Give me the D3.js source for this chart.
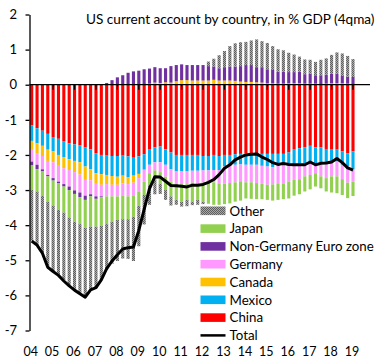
<!DOCTYPE html>
<html><head><meta charset="utf-8">
<script src="https://cdn.jsdelivr.net/npm/d3@7"></script>
<style>body{margin:0;background:#fff} svg{display:block}</style>
</head><body>
<svg id="chart" width="384" height="360"></svg>
<script>
const years = ["04","05","06","07","08","09","10","11","12","13","14","15","16","17","18","19"];
const quarters = years.flatMap(yy => ["Q1","Q2","Q3","Q4"].map(q => yy + q)).slice(0, 61);
const yTicks = [-7,-6,-5,-4,-3,-2,-1,0,1,2];

const china = [-1.16,-1.24,-1.31,-1.40,-1.49,-1.54,-1.62,-1.67,-1.70,-1.73,-1.79,-1.84,-1.95,-2.00,-2.02,-2.03,-2.03,-2.02,-2.04,-2.08,-2.04,-1.98,-1.85,-1.78,-1.76,-1.84,-1.93,-2.00,-2.00,-2.00,-2.00,-2.00,-2.03,-2.03,-2.00,-2.03,-2.00,-2.00,-1.98,-1.97,-1.96,-1.98,-1.98,-1.97,-1.97,-1.97,-1.97,-1.97,-1.93,-1.85,-1.81,-1.78,-1.74,-1.78,-1.78,-1.83,-1.85,-1.85,-1.90,-1.95,-1.90];
const mexico = [-0.44,-0.43,-0.43,-0.45,-0.41,-0.46,-0.45,-0.45,-0.47,-0.48,-0.54,-0.57,-0.57,-0.55,-0.55,-0.57,-0.59,-0.57,-0.60,-0.51,-0.50,-0.44,-0.43,-0.43,-0.45,-0.44,-0.48,-0.47,-0.47,-0.47,-0.45,-0.45,-0.41,-0.41,-0.43,-0.40,-0.33,-0.30,-0.30,-0.30,-0.32,-0.30,-0.30,-0.34,-0.36,-0.38,-0.34,-0.34,-0.35,-0.43,-0.47,-0.45,-0.45,-0.45,-0.45,-0.40,-0.38,-0.34,-0.38,-0.38,-0.51];
const canada = [-0.23,-0.28,-0.29,-0.32,-0.31,-0.31,-0.31,-0.31,-0.32,-0.35,-0.38,-0.31,-0.28,-0.30,-0.26,-0.25,-0.23,-0.22,-0.19,-0.20,-0.12,0.02,0.03,0.06,0.05,0.07,0.06,0.10,0.13,0.13,0.12,0.12,0.12,0.12,0.14,0.12,0.12,0.12,0.11,0.09,0.08,0.08,0.07,0.06,0.04,0.04,0.03,0.03,0.04,0.04,0.04,0.03,0.03,0.03,0.02,0.03,0.04,0.04,0.04,0.03,0.02];
const germany = [-0.36,-0.33,-0.38,-0.40,-0.45,-0.45,-0.45,-0.47,-0.52,-0.51,-0.45,-0.40,-0.38,-0.33,-0.35,-0.33,-0.33,-0.36,-0.35,-0.38,-0.38,-0.34,-0.24,-0.23,-0.28,-0.34,-0.35,-0.34,-0.36,-0.36,-0.34,-0.36,-0.35,-0.34,-0.35,-0.38,-0.49,-0.50,-0.50,-0.48,-0.50,-0.50,-0.52,-0.51,-0.52,-0.49,-0.50,-0.50,-0.48,-0.43,-0.41,-0.38,-0.38,-0.29,-0.38,-0.43,-0.38,-0.42,-0.41,-0.46,-0.35];
const ngez = [-0.11,-0.12,-0.06,-0.04,-0.07,-0.05,-0.07,-0.10,-0.10,-0.13,-0.12,-0.06,-0.07,-0.02,0.05,0.13,0.21,0.27,0.34,0.38,0.40,0.42,0.43,0.44,0.42,0.40,0.47,0.46,0.45,0.43,0.44,0.44,0.44,0.41,0.38,0.35,0.38,0.40,0.41,0.44,0.48,0.48,0.43,0.44,0.40,0.38,0.34,0.34,0.32,0.32,0.33,0.27,0.28,0.24,0.25,0.26,0.27,0.27,0.21,0.20,0.20];
const japan = [-0.69,-0.64,-0.70,-0.72,-0.71,-0.75,-0.74,-0.78,-0.79,-0.77,-0.79,-0.86,-0.79,-0.82,-0.79,-0.72,-0.67,-0.66,-0.65,-0.59,-0.41,-0.38,-0.33,-0.27,-0.33,-0.38,-0.42,-0.47,-0.50,-0.45,-0.54,-0.47,-0.54,-0.61,-0.64,-0.61,-0.58,-0.58,-0.55,-0.55,-0.46,-0.47,-0.46,-0.44,-0.43,-0.46,-0.47,-0.45,-0.48,-0.45,-0.43,-0.43,-0.41,-0.38,-0.34,-0.38,-0.46,-0.48,-0.45,-0.44,-0.41];
const other = [-1.45,-1.52,-1.63,-1.85,-1.88,-1.85,-1.92,-1.92,-1.94,-1.97,-1.98,-1.80,-1.76,-1.54,-1.30,-1.20,-1.17,-1.12,-1.13,-1.26,-1.15,-0.84,-0.57,-0.41,-0.29,-0.28,-0.26,-0.14,-0.14,-0.18,-0.10,-0.14,-0.07,0.13,0.22,0.37,0.46,0.58,0.66,0.68,0.66,0.70,0.79,0.74,0.75,0.68,0.64,0.61,0.55,0.50,0.43,0.42,0.40,0.38,0.44,0.46,0.54,0.61,0.64,0.59,0.51];
const total = [-4.45,-4.57,-4.80,-5.20,-5.32,-5.43,-5.59,-5.73,-5.85,-5.95,-6.05,-5.84,-5.78,-5.56,-5.24,-5.02,-4.84,-4.68,-4.64,-4.62,-4.15,-3.55,-2.96,-2.62,-2.63,-2.75,-2.87,-2.88,-2.89,-2.91,-2.86,-2.86,-2.84,-2.78,-2.70,-2.56,-2.38,-2.28,-2.14,-2.06,-2.00,-1.98,-1.97,-2.06,-2.13,-2.22,-2.27,-2.24,-2.27,-2.28,-2.28,-2.28,-2.20,-2.28,-2.24,-2.23,-2.20,-2.10,-2.22,-2.37,-2.43];

const seriesKeys = ["China","Mexico","Canada","Germany","Non-Germany Euro zone","Japan","Other"];
const seriesData = [china, mexico, canada, germany, ngez, japan, other];
const colors = {"China":"#FF0000","Mexico":"#00B0F0","Canada":"#FFC000","Germany":"#FF99FF","Non-Germany Euro zone":"#7030A0","Japan":"#92D050","Other":"url(#pOther)"};
const legendOrder = ["Other","Japan","Non-Germany Euro zone","Germany","Canada","Mexico","China"];

const rows = quarters.map((q, i) => {
  const r = {q, i};
  seriesKeys.forEach((k, j) => r[k] = seriesData[j][i]);
  return r;
});

const svg = d3.select("#chart");
const font = "Lato, 'Liberation Sans', Arial, sans-serif";

const defs = svg.append("defs");
const pat = defs.append("pattern").attr("id","pOther").attr("width",2).attr("height",2).attr("patternUnits","userSpaceOnUse");
pat.append("rect").attr("width",2).attr("height",2).attr("fill","#a8a8a8");
pat.append("rect").attr("x",0).attr("y",0).attr("width",1).attr("height",1).attr("fill","#5e5e5e");
pat.append("rect").attr("x",1).attr("y",1).attr("width",1).attr("height",1).attr("fill","#5e5e5e");

const x = d3.scaleLinear().domain([0, 60]).range([31.7, 353]);
const y = d3.scaleLinear().domain([-7, 2]).range([330.5, 14.5]);
const barW = 3.1;

const stack = d3.stack().keys(seriesKeys).offset(d3.stackOffsetDiverging);
const stacked = stack(rows);

svg.append("g").selectAll("g").data(stacked).join("g")
  .attr("fill", d => colors[d.key])
  .selectAll("rect").data(d => d).join("rect")
  .attr("x", d => x(d.data.i) - barW / 2)
  .attr("width", barW)
  .attr("y", d => y(Math.max(d[0], d[1])))
  .attr("height", d => Math.abs(y(d[0]) - y(d[1])));

// zero line
svg.append("line").attr("x1", 29.5).attr("x2", 370).attr("y1", y(0)).attr("y2", y(0))
  .attr("stroke", "#000").attr("stroke-width", 1.3);

// x ticks on zero line
const xTickIdx = years.map((_, k) => k * 4);
svg.append("g").selectAll("line").data(xTickIdx.slice(1)).join("line")
  .attr("x1", d => x(d)).attr("x2", d => x(d))
  .attr("y1", y(0)).attr("y2", y(0) + 5)
  .attr("stroke", "#000").attr("stroke-width", 1.3);

// x labels
svg.append("g").selectAll("text").data(xTickIdx).join("text")
  .attr("x", d => x(d) - 1).attr("y", 356)
  .attr("text-anchor", "middle")
  .attr("font-family", font).attr("font-size", 12.5)
  .text((d, k) => years[k]);

// y axis
const yAxis = d3.axisLeft(y).tickValues(yTicks).tickSize(4).tickSizeOuter(0).tickFormat(d => String(d));
const ga = svg.append("g").attr("transform", "translate(29.5,0)").call(yAxis);
ga.select(".domain").attr("stroke", "#000").attr("stroke-width", 1.3);
ga.selectAll(".tick line").attr("stroke", "#000").attr("stroke-width", 1.3);
ga.selectAll(".tick text").attr("x", -12.5).attr("font-family", font).attr("font-size", 13).attr("fill", "#000");

// total line
const line = d3.line().x((d, i) => x(i)).y(d => y(d));
svg.append("path").datum(total).attr("d", line)
  .attr("fill", "none").attr("stroke", "#000").attr("stroke-width", 3)
  .attr("stroke-linejoin", "round");

// title
svg.append("text").attr("x", 86).attr("y", 24)
  .attr("font-family", font).attr("font-size", 13.6).attr("fill", "#000")
  .text("US current account by country, in % GDP (4qma)");

// legend
const lg = svg.append("g");
const lgY = k => 210.8 + k * 17.8;
legendOrder.forEach((name, k) => {
  lg.append("rect").attr("x", 200.5).attr("y", lgY(k) - 4.3).attr("width", 25).attr("height", 8.6)
    .attr("fill", colors[name]);
  lg.append("text").attr("x", 229.5).attr("y", lgY(k)).attr("dy", "0.36em")
    .attr("font-family", font).attr("font-size", 13.3).text(name);
});
const tk = legendOrder.length;
lg.append("line").attr("x1", 200.5).attr("x2", 225.5).attr("y1", lgY(tk)).attr("y2", lgY(tk))
  .attr("stroke", "#000").attr("stroke-width", 2.5);
lg.append("text").attr("x", 229.5).attr("y", lgY(tk)).attr("dy", "0.36em")
  .attr("font-family", font).attr("font-size", 13.3).text("Total");
</script>
</body></html>
